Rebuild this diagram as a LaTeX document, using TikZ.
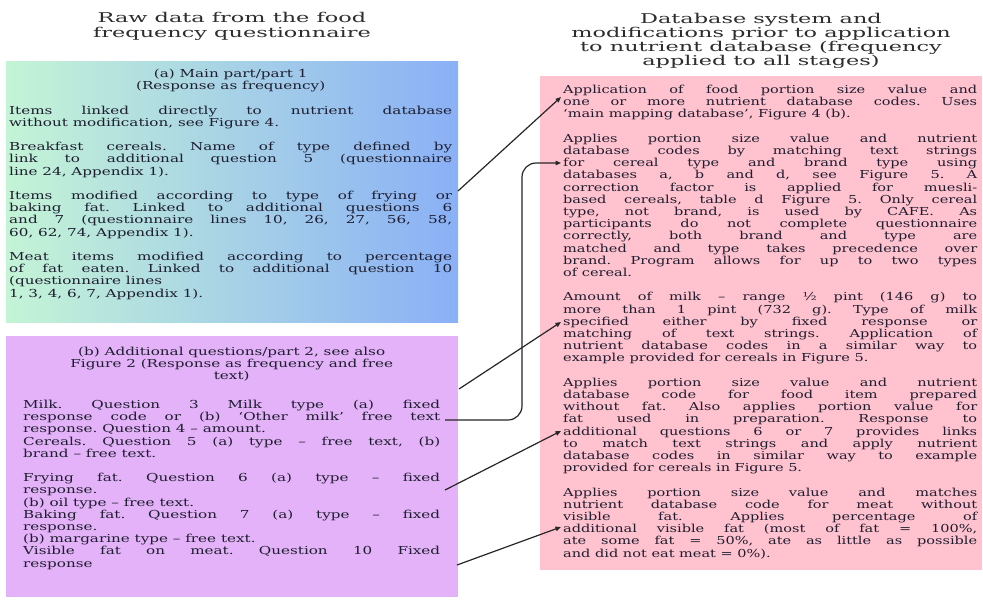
\documentclass[tikz,border=0pt]{standalone}
\usepackage{fontspec}
\setmainfont{DejaVu Serif}
\newfontfamily\boxfontL{DejaVu Serif}[FakeStretch=1.38]
\newfontfamily\boxfontR{DejaVu Serif}[FakeStretch=1.32]
\newfontfamily\titlefont{DejaVu Serif}[FakeStretch=1.66]
\usetikzlibrary{arrows.meta}
\definecolor{mintL}{RGB}{196,244,214}
\definecolor{blueR}{RGB}{138,176,246}
\definecolor{lilac}{RGB}{228,178,248}
\definecolor{pinkbox}{RGB}{255,194,206}
\definecolor{txt}{RGB}{30,30,48}
\definecolor{ttl}{RGB}{45,45,45}
\newcommand\boxsetup{\fontsize{11}{12.2}\selectfont\setlength\parskip{12.2pt}\frenchspacing
  \tolerance=10000\hbadness=10000\hyphenpenalty=10000\exhyphenpenalty=0\parindent=0pt}
\tikzset{
  conn/.style={draw=black!85, line width=1.2pt, -{Triangle[length=5.5pt,width=4.5pt]}},
  panel/.style={draw=none, inner sep=0pt, anchor=north west},
  txtnode/.style={anchor=base west, inner sep=0pt, text=txt},
}
\begin{document}
\begin{tikzpicture}[x=1pt,y=-1pt]
\fill[white] (0,0) rectangle (983,600);
\useasboundingbox (0,0) rectangle (983,600);

% panels
\node[panel, left color=mintL, right color=blueR, minimum width=452pt, minimum height=261pt] (boxa) at (6,61) {};
\node[panel, fill=lilac, minimum width=452pt, minimum height=261pt] (boxb) at (6,336) {};
\node[panel, fill=pinkbox, minimum width=442pt, minimum height=494pt] (boxc) at (540,76) {};

% titles
\node[anchor=base, inner sep=0pt, text=ttl] (titleL) at (232,22) {\begin{minipage}[t]{452pt}\centering\titlefont\fontsize{13.5}{15}\selectfont
Raw data from the food\\frequency questionnaire\end{minipage}};
\node[anchor=base, inner sep=0pt, text=ttl] (titleR) at (761,23.5) {\begin{minipage}[t]{442pt}\centering\titlefont\fontsize{13.5}{14}\selectfont
Database system and\\modifications prior to application\\to nutrient database (frequency\\applied to all stages)\end{minipage}};

% text of box a
\node[txtnode] (texta) at (9,77.5) {\begin{minipage}[t]{443pt}\boxfontL\boxsetup
{\centering (a) Main part/part 1\\(Response as frequency)\par}
Items linked directly to nutrient database\linebreak without modification, see Figure 4.\par
Breakfast cereals. Name of type defined by\linebreak link to additional question 5 (questionnaire\linebreak line 24, Appendix 1).\par
Items modified according to type of frying or\linebreak baking fat. Linked to additional questions 6\linebreak and 7 (questionnaire lines 10, 26, 27, 56, 58,\linebreak 60, 62, 74, Appendix 1).\par
Meat items modified according to percentage\linebreak of fat eaten. Linked to additional question 10\linebreak (questionnaire lines\\1, 3, 4, 6, 7, Appendix 1).\par
\end{minipage}};

% text of box b
\node[txtnode] (textb) at (23,355.5) {\begin{minipage}[t]{417pt}\boxfontL\boxsetup
{\centering (b) Additional questions/part 2, see also\\Figure 2 (Response as frequency and free\\text)\par}
\vspace{4.2pt}
Milk. Question 3 Milk type (a) fixed\linebreak response code or (b) ‘Other milk’ free text\linebreak response. Question 4 – amount.\\Cereals. Question 5 (a) type – free text, (b)\linebreak brand – free text.\par
Frying fat. Question 6 (a) type – fixed\linebreak response.\\(b) oil type – free text.\\Baking fat. Question 7 (a) type – fixed\linebreak response.\\(b) margarine type – free text.\\Visible fat on meat. Question 10 Fixed\linebreak response\par
\end{minipage}};

% text of right box
\node[txtnode] (textc) at (563,93.5) {\begin{minipage}[t]{414pt}\boxfontR\boxsetup
Application of food portion size value and\linebreak one or more nutrient database codes. Uses\linebreak ‘main mapping database’, Figure 4 (b).\par
Applies portion size value and nutrient\linebreak database codes by matching text strings\linebreak for cereal type and brand type using\linebreak databases a, b and d, see Figure 5. A\linebreak correction factor is applied for muesli-\linebreak based cereals, table d Figure 5. Only cereal\linebreak type, not brand, is used by CAFE. As\linebreak participants do not complete questionnaire\linebreak correctly, both brand and type are\linebreak matched and type takes precedence over\linebreak brand. Program allows for up to two types\linebreak of cereal.\par
Amount of milk – range ½ pint (146 g) to\linebreak more than 1 pint (732 g). Type of milk\linebreak specified either by fixed response or\linebreak matching of text strings. Application of\linebreak nutrient database codes in a similar way to\linebreak example provided for cereals in Figure 5.\par
Applies portion size value and nutrient\linebreak database code for food item prepared\linebreak without fat. Also applies portion value for\linebreak fat used in preparation. Response to\linebreak additional questions 6 or 7 provides links\linebreak to match text strings and apply nutrient\linebreak database codes in similar way to example\linebreak provided for cereals in Figure 5.\par
Applies portion size value and matches\linebreak nutrient database code for meat without\linebreak visible fat. Applies percentage of\linebreak additional visible fat (most of fat = 100\%,\linebreak ate some fat = 50\%, ate as little as possible\linebreak and did not eat meat = 0\%).\par
\end{minipage}};

% connector end points
\coordinate (s1) at (458,191); \coordinate (t1) at (561,97);
\coordinate (s2) at (445,420); \coordinate (t2) at (561,163);
\coordinate (s3) at (459,389); \coordinate (t3) at (561,322);
\coordinate (s4) at (445,490); \coordinate (t4) at (561,431);
\coordinate (s5) at (457,565); \coordinate (t5) at (561,527);

\draw[conn] (s1) -- (t1);
\draw[conn, rounded corners=14pt] (s2) -- (522,420) -- (522,163) -- (t2);
\draw[conn] (s3) -- (t3);
\draw[conn] (s4) -- (t4);
\draw[conn] (s5) -- (t5);
\end{tikzpicture}
\end{document}
